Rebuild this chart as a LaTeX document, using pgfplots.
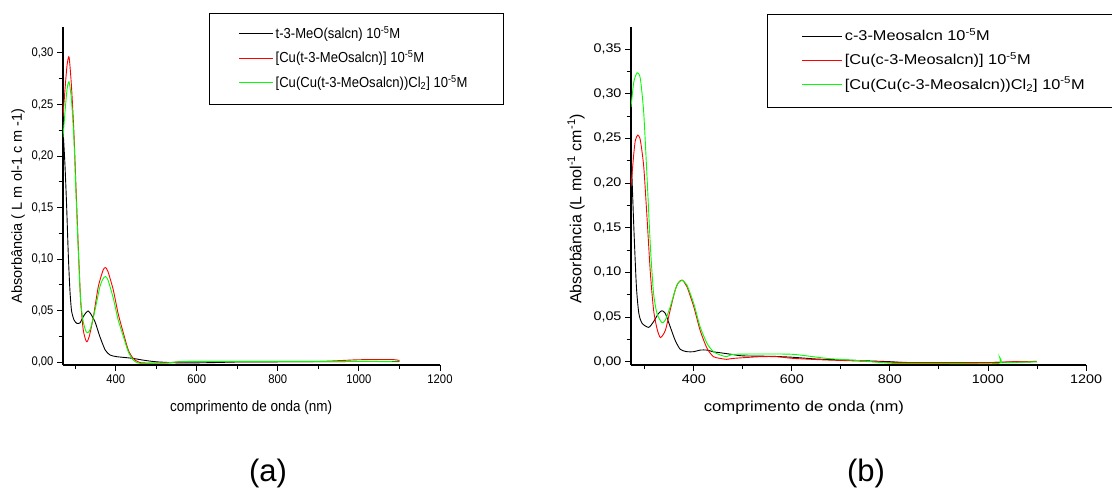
\documentclass[border=0pt]{standalone}
\usepackage{fontspec}
\setmainfont{Liberation Sans}
\newfontfamily\lfont[FakeStretch=0.9]{Liberation Sans}
\newfontfamily\rfont[FakeStretch=1.15]{Liberation Sans}
\usepackage{pgfplots}
\pgfplotsset{compat=1.18}
\usepackage{pgfplotstable}
\definecolor{ored}{RGB}{255,0,0}
\definecolor{ogreen}{RGB}{0,255,0}

\pgfplotstableread{
x y
270 0.222
271 0.219
275 0.190
279 0.151
283 0.105
287 0.070
291 0.050
297 0.041
304 0.0375
312 0.038
320 0.044
327 0.048
332 0.0495
338 0.047
349 0.039
361 0.0246
374 0.0117
386 0.0068
402 0.0052
427 0.0042
443 0.0035
468 0.0018
500 0.0002
550 -0.0008
600 -0.0008
650 -0.0005
700 0.0
800 0.0002
900 0.0003
1000 0.0005
1100 0.0005
}\LA
\pgfplotstableread{
x y
270 0.238
275 0.265
280 0.288
285 0.296
291 0.267
297 0.222
302 0.170
308 0.109
313.5 0.060
320 0.031
328 0.0197
334.6 0.0246
345 0.044
357 0.073
369 0.0893
375 0.0916
381 0.0877
394 0.070
406 0.047
419 0.028
431 0.0117
443 0.0036
460 -0.0006
500 -0.001
530 -0.0008
560 0.0003
600 0.0005
700 0.0003
800 0.0003
900 0.0005
960 0.0015
1000 0.0022
1080 0.0024
1100 0.0015
}\LB
\pgfplotstableread{
x y
270 0.218
275 0.243
280 0.265
285 0.272
291 0.254
297 0.216
302 0.164
308 0.106
313.5 0.060
320 0.039
327 0.0295
332 0.0285
338 0.0327
349 0.0505
361 0.073
369 0.081
375 0.0829
381 0.0796
394 0.062
406 0.041
419 0.0246
431 0.010
443 0.002
460 -0.0013
520 -0.001
560 0.0003
600 0.0006
800 0.0006
1000 0.0006
1100 0.0002
}\LC
\pgfplotstableread{
x y
272 0.237
277.7 0.151
283 0.084
288 0.054
294.6 0.043
308 0.0384
318 0.0448
328 0.054
335 0.057
342 0.054
352 0.039
362 0.024
372.5 0.0138
386 0.0112
400 0.0112
413 0.013
427 0.013
440 0.011
454 0.010
480 0.008
500 0.0065
560 0.006
600 0.005
650 0.003
700 0.002
750 0.001
800 0.0
850 -0.0015
950 -0.0015
1000 -0.001
1050 -0.0005
1100 0.0
}\RA
\pgfplotstableread{
x y
272 0.196
277.7 0.233
281 0.248
285.8 0.2536
291 0.248
298 0.218
305 0.158
311.5 0.099
318 0.058
325 0.037
332 0.027
342 0.035
352 0.058
362 0.080
368 0.088
376 0.0914
386 0.084
400 0.0615
413 0.035
427 0.015
440 0.0056
454 0.0037
467 0.0026
481 0.0037
535 0.0056
569 0.0056
603 0.0037
671 0.0019
739 0.0007
807 -0.0007
900 -0.001
1000 -0.001
1050 0.0
1100 0.0003
}\RB
\pgfplotstableread{
x y
272 0.285
277.7 0.313
284.5 0.3234
291 0.317
298 0.278
305 0.203
311.5 0.129
318 0.0765
325 0.054
335 0.0436
342 0.0466
352 0.0615
362 0.080
368 0.088
376 0.091
386 0.0858
400 0.065
413 0.039
427 0.0205
440 0.0112
454 0.0075
467 0.0056
481 0.0082
535 0.0086
603 0.0082
671 0.0037
739 0.0011
807 -0.0019
900 -0.002
1020 -0.002
1024 0.0048
1027 -0.001
1050 -0.0008
1100 0.0
}\RC

\pgfplotsset{
  originstyle/.style={
    scale only axis, enlargelimits=false,
    axis x line*=bottom, axis y line*=left,
    axis line style={line width=1.1bp,-},
    x axis line style={-}, y axis line style={-},
    tick align=outside,
    major tick length=6bp, minor tick length=4.5bp,
    tick style={line width=0.9bp, black},
    xtick={400,600,800,1000,1200},
    minor xtick={300,500,700,900,1100},
    xmax=1200,
    /pgf/number format/assume math mode=true,
    x tick label style={/pgf/number format/1000 sep={}},
    y tick label style={/pgf/number format/.cd, fixed, fixed zerofill, precision=2, use comma},
    legend cell align=left,
  },
  curve/.style={line width=0.9bp, smooth, tension=0.4},
}

\begin{document}
\begin{tikzpicture}[x=1bp,y=1bp]
\path[use as bounding box] (0,0) rectangle (1112,491);

\begin{axis}[originstyle,
  at={(63bp,126bp)}, anchor=south west, width=377bp, height=338bp,
  xmin=270, ymin=-0.0029, ymax=0.3252,
  ytick={0,0.05,0.10,0.15,0.20,0.25,0.30},
  minor ytick={0.025,0.075,0.125,0.175,0.225,0.275},
  ticklabel style={font=\lfont\fontsize{12.5bp}{14bp}\selectfont},
  xlabel={comprimento de onda (nm)},
  xlabel style={font=\lfont\fontsize{15bp}{17bp}\selectfont, at={(rel axis cs:0.499,-0.127)}, anchor=center},
  ylabel={Absorbância ( L m ol-1 c m -1)},
  ylabel style={font=\fontsize{14.5bp}{17bp}\selectfont, at={(rel axis cs:-0.1194,0.47)}, anchor=center},
  legend image code/.code={\draw[#1, line width=1.3bp] (0bp,0.5bp) -- (34bp,0.5bp);},
  legend style={at={(0.387,1.042)}, anchor=north west, draw=black, line width=1bp, fill=white,
    inner xsep=29bp, inner ysep=14bp, row sep=10.5bp, column sep=2bp,
    nodes={inner sep=0pt, text height=11bp, text depth=3bp, font=\lfont\fontsize{14.5bp}{17bp}\selectfont}},
]
\addplot[curve, black] table {\LA};
\addlegendentry{\makebox[199bp][l]{t-3-MeO(salcn) 10\textsuperscript{-5}M}}
\addplot[curve, ored] table {\LB};
\addlegendentry{\makebox[199bp][l]{[Cu(t-3-MeOsalcn)] 10\textsuperscript{-5}M}}
\addplot[curve, ogreen] table {\LC};
\addlegendentry{\makebox[199bp][l]{[Cu(Cu(t-3-MeOsalcn))Cl\textsubscript{2}] 10\textsuperscript{-5}M}}
\end{axis}

\begin{axis}[originstyle,
  at={(631bp,126bp)}, anchor=south west, width=455bp, height=338bp,
  xmin=272, ymin=-0.0037, ymax=0.3746,
  ytick={0,0.05,0.10,0.15,0.20,0.25,0.30,0.35},
  minor ytick={0.025,0.075,0.125,0.175,0.225,0.275,0.325},
  ticklabel style={font=\rfont\fontsize{12.5bp}{14bp}\selectfont},
  xlabel={comprimento de onda (nm)},
  xlabel style={font=\rfont\fontsize{14.5bp}{17bp}\selectfont, at={(rel axis cs:0.380,-0.127)}, anchor=center},
  ylabel={Absorbância (L mol\textsuperscript{-1} cm\textsuperscript{-1})},
  ylabel style={font=\fontsize{16bp}{18bp}\selectfont, at={(rel axis cs:-0.1209,0.462)}, anchor=center},
  legend image code/.code={\draw[#1, line width=1.3bp] (0bp,0.5bp) -- (40bp,0.5bp);},
  legend style={at={(0.299,1.0376)}, anchor=north west, draw=black, line width=1bp, fill=white,
    inner xsep=34bp, inner ysep=15bp, row sep=10.2bp, column sep=2bp,
    nodes={inner sep=0pt, text height=11bp, text depth=3bp, font=\rfont\fontsize{14.2bp}{17bp}\selectfont}},
]
\addplot[curve, black] table {\RA};
\addlegendentry{\makebox[248bp][l]{c-3-Meosalcn 10\textsuperscript{-5}M}}
\addplot[curve, ored] table {\RB};
\addlegendentry{\makebox[248bp][l]{[Cu(c-3-Meosalcn)] 10\textsuperscript{-5}M}}
\addplot[curve, ogreen] table {\RC};
\addlegendentry{\makebox[248bp][l]{[Cu(Cu(c-3-Meosalcn))Cl\textsubscript{2}] 10\textsuperscript{-5}M}}
\end{axis}

\node[font=\fontsize{31bp}{34bp}\selectfont, anchor=base] at (268,9) {(a)};
\node[font=\fontsize{31bp}{34bp}\selectfont, anchor=base] at (866,9) {(b)};
\end{tikzpicture}
\end{document}
